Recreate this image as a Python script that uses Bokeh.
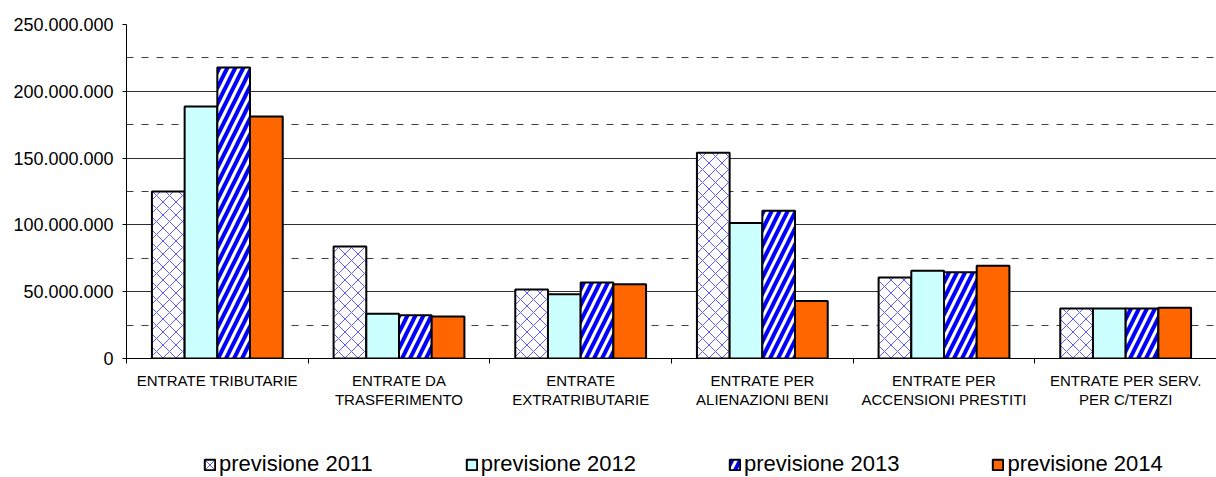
import numpy as np
from bokeh.plotting import figure
from bokeh.layouts import column
from bokeh.models import (ColumnDataSource, FixedTicker, CustomJSTickFormatter,
                          Legend, LegendItem, Range1d)
from bokeh.embed import file_html
from bokeh.resources import INLINE

categories = ["ENTRATE TRIBUTARIE", "ENTRATE DA\nTRASFERIMENTO", "ENTRATE\nEXTRATRIBUTARIE",
              "ENTRATE PER\nALIENAZIONI BENI", "ENTRATE PER\nACCENSIONI PRESTITI",
              "ENTRATE PER SERV.\nPER C/TERZI"]
series_names = ["previsione 2011", "previsione 2012", "previsione 2013", "previsione 2014"]
prev_2011 = [125.0e6, 83.8e6, 51.6e6, 154.0e6, 60.6e6, 37.4e6]
prev_2012 = [188.6e6, 33.5e6, 48.0e6, 101.5e6, 65.7e6, 37.4e6]
prev_2013 = [217.8e6, 32.3e6, 56.8e6, 110.6e6, 64.5e6, 37.4e6]
prev_2014 = [181.2e6, 31.4e6, 55.5e6, 43.1e6, 69.5e6, 38.0e6]
y_ticks = [0, 50e6, 100e6, 150e6, 200e6, 250e6]
y_minor = [25e6, 75e6, 125e6, 175e6, 225e6]

FONT = "Liberation Sans"
n = len(categories)

p = figure(width=1216, height=440, output_backend="svg", toolbar_location=None,
           x_range=Range1d(0, 6), y_range=Range1d(0, 250e6),
           min_border_left=126, min_border_right=0, min_border_top=24, min_border_bottom=82)
p.outline_line_color = None
p.background_fill_color = "white"
p.border_fill_color = "white"

values = [prev_2011, prev_2012, prev_2013, prev_2014]
offsets = [-0.27, -0.09, 0.09, 0.27]
styles = [
    dict(fill_color="white", hatch_pattern="diagonal_cross", hatch_color="#5a5aff",
         hatch_scale=13, hatch_weight=1),
    dict(fill_color="#ccffff"),
    dict(fill_color="white", hatch_pattern="right_diagonal_line", hatch_color="#0000ff",
         hatch_scale=16, hatch_weight=4),
    dict(fill_color="#ff6600"),
]
sources = []
for vals, off, st in zip(values, offsets, styles):
    src = ColumnDataSource(dict(x=np.arange(n) + 0.5 + off, top=vals))
    sources.append(src)
    p.vbar(x="x", top="top", width=0.18, bottom=0, source=src,
           line_color="black", line_width=2, **st)

# y axis
p.yaxis.ticker = FixedTicker(ticks=y_ticks, minor_ticks=y_minor)
p.yaxis.formatter = CustomJSTickFormatter(
    code='return tick.toFixed(0).replace(/\\B(?=(\\d{3})+(?!\\d))/g, ".");')
p.yaxis.major_label_text_font = FONT
p.yaxis.major_label_text_font_size = "18px"
p.yaxis.major_label_text_color = "black"
p.yaxis.axis_line_color = "black"
p.yaxis.major_tick_line_color = "black"
p.yaxis.major_tick_out = 4
p.yaxis.major_tick_in = 0
p.yaxis.minor_tick_out = 0
p.yaxis.minor_tick_in = 0
p.yaxis.major_label_standoff = 9

p.ygrid.grid_line_color = "#303030"
p.ygrid.grid_line_width = 1
p.ygrid.minor_grid_line_color = "#404040"
p.ygrid.minor_grid_line_dash = "7 8"
p.ygrid.minor_grid_line_width = 1
p.xgrid.grid_line_color = None

# x axis
centers = [i + 0.5 for i in range(n)]
p.xaxis.ticker = FixedTicker(ticks=centers, minor_ticks=list(range(n + 1)))
p.xaxis.major_label_overrides = {c: lab for c, lab in zip(centers, categories)}
p.xaxis.major_label_text_font = FONT
p.xaxis.major_label_text_font_size = "15px"
p.xaxis.major_label_text_color = "black"
p.xaxis.major_label_text_line_height = 1.15
p.xaxis.axis_line_color = "black"
p.xaxis.major_tick_out = 0
p.xaxis.major_tick_in = 0
p.xaxis.minor_tick_out = 5
p.xaxis.minor_tick_in = 0
p.xaxis.minor_tick_line_color = "black"
p.xaxis.major_label_standoff = 8

# legend strip: a second figure below with hidden copies of the series renderers
pl = figure(width=1216, height=37, output_backend="svg", toolbar_location=None,
            x_axis_location=None, y_axis_location=None,
            x_range=Range1d(0, 6), y_range=Range1d(0, 250e6),
            min_border_left=0, min_border_right=0, min_border_top=0, min_border_bottom=0)
pl.outline_line_color = None
pl.grid.visible = False
leg_renderers = []
for src, st in zip(sources, styles):
    r = pl.vbar(x="x", top="top", width=0.18, bottom=0, source=src,
                line_color="black", line_width=2, **st)
    r.visible = False
    leg_renderers.append(r)

legend = Legend(items=[LegendItem(label=nm, renderers=[r]) for nm, r in zip(series_names, leg_renderers)],
                orientation="horizontal", location=(77, 0),
                label_text_font=FONT, label_text_font_size="22px", label_text_color="black",
                glyph_width=13, glyph_height=13, label_standoff=3, spacing=92,
                padding=0, margin=0, border_line_alpha=0, background_fill_alpha=0,
                label_height=16, inactive_fill_alpha=0)
pl.add_layout(legend, "center")

layout = column(p, pl, spacing=0)
open("out.html", "w").write(file_html(layout, INLINE))
